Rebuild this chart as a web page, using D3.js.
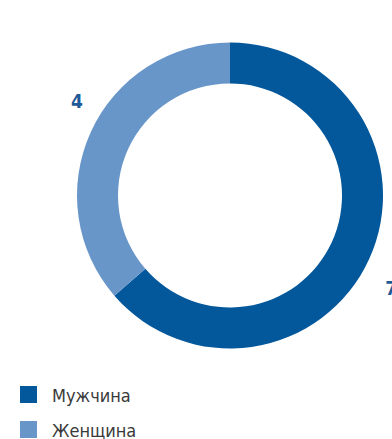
<!DOCTYPE html>
<html>
<head>
<meta charset="utf-8">
<script src="https://cdn.jsdelivr.net/npm/d3@7/dist/d3.min.js"></script>
<style>
  html, body { margin: 0; padding: 0; background: #ffffff; }
  svg { display: block; }
</style>
</head>
<body>
<div id="chart"></div>
<script>
// Gender split of the group
const categories = ["Мужчина", "Женщина"];
const values = [7, 4];
const colors = ["#03579b", "#6996c9"];

const width = 392, height = 439;
const cx = 230, cy = 195.5;
const outerR = 153, innerR = 112;
const labelR = 183;
const labelShift = 0.11; // radians, clockwise nudge of value labels

const svg = d3.select("#chart").append("svg")
  .attr("width", width)
  .attr("height", height);

const data = categories.map((c, i) => ({ name: c, value: values[i], color: colors[i] }));

const pie = d3.pie().sort(null).value(d => d.value);
const arcs = pie(data);

const arc = d3.arc().innerRadius(innerR).outerRadius(outerR);

const g = svg.append("g").attr("transform", `translate(${cx},${cy})`);

g.selectAll("path.slice")
  .data(arcs)
  .join("path")
  .attr("class", "slice")
  .attr("d", arc)
  .attr("fill", d => d.data.color);

// Value labels outside the ring
const labelArc = d3.arc().innerRadius(labelR).outerRadius(labelR);
g.selectAll("text.value")
  .data(arcs)
  .join("text")
  .attr("class", "value")
  .attr("transform", d => {
    const mid = { startAngle: d.startAngle + labelShift, endAngle: d.endAngle + labelShift };
    const [x, y] = labelArc.centroid(mid);
    return `translate(${x + 4},${y - 1})`;
  })
  .attr("text-anchor", "middle")
  .attr("dominant-baseline", "central")
  .attr("font-family", "'DejaVu Sans Condensed', 'DejaVu Sans', sans-serif")
  .attr("font-stretch", "condensed")
  .attr("font-weight", "bold")
  .attr("font-size", 19)
  .attr("fill", "#1d5a97")
  .text(d => d.data.value);

// Legend
const legend = svg.append("g").attr("transform", "translate(20,386)");
const rowH = 35;
const items = legend.selectAll("g.item")
  .data(data)
  .join("g")
  .attr("class", "item")
  .attr("transform", (d, i) => `translate(0,${i * rowH})`);

items.append("rect")
  .attr("width", 17)
  .attr("height", 17)
  .attr("fill", d => d.color);

items.append("text")
  .attr("x", 32)
  .attr("y", 16)
  .attr("font-family", "'DejaVu Sans Condensed', 'DejaVu Sans', sans-serif")
  .attr("font-stretch", "condensed")
  .attr("font-size", 18)
  .attr("fill", "#3a3a3a")
  .text(d => d.name);
</script>
</body>
</html>
